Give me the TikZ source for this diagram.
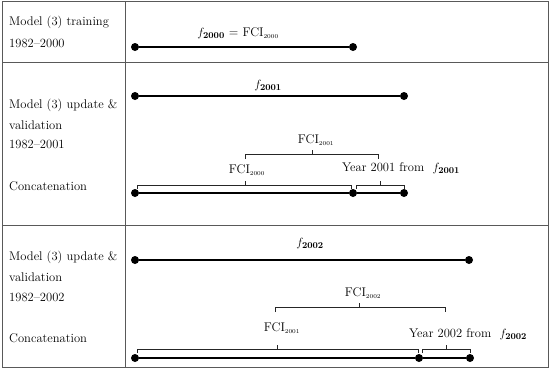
\documentclass[tikz,border=0pt]{standalone}
\begin{document}
\begin{tikzpicture}[x=1bp,y=-1bp,
  frame/.style={draw=black!65,line width=0.9bp},
  lbl/.style={font=\fontsize{12.6}{15}\selectfont,inner sep=0pt},
  rowtxt/.style={lbl,anchor=west},
  dot/.style={circle,fill=black,inner sep=0pt,minimum size=8bp},
  seg/.style={line width=1.4bp},
  brace/.style={line width=0.6bp,black!85}]
\useasboundingbox (0,0) rectangle (550,370);
% table
\draw[frame] (2,1) rectangle (548,367);
\draw[frame] (125,1) -- (125,367);
\draw[frame] (2,62) -- (548,62);
\draw[frame] (2,225) -- (548,225);
% row 1
\node[rowtxt] (t1a) at (9,22) {Model (3) training};
\node[rowtxt] (t1b) at (9,43) {1982--2000};
\node[dot] (a1) at (135,47) {};
\node[dot] (a2) at (353,47) {};
\draw[seg] (a1) -- (a2);
\node[lbl] (l1) at (238,33) {$f_{\mathbf{2000}}$ = FCI$_{\scriptscriptstyle 2000}$};
% row 2
\node[rowtxt] (t2a) at (9,105) {Model (3) update \&};
\node[rowtxt] (t2b) at (9,125) {validation};
\node[rowtxt] (t2c) at (9,144) {1982--2001};
\node[rowtxt] (t2d) at (9,186) {Concatenation};
\node[dot] (b1) at (135,96) {};
\node[dot] (b2) at (404,96) {};
\draw[seg] (b1) -- (b2);
\node[lbl] (l2) at (268,86) {$f_{\mathbf{2001}}$};
\node[dot] (c1) at (135,193) {};
\node[dot] (c2) at (353,193) {};
\node[dot] (c3) at (404,193) {};
\draw[seg] (c1) -- (c2) -- (c3);
\draw[brace] (245,159) -- (245,154) -- (378,154) -- (378,159);
\draw[brace] (312,154) -- (312,150);
\node[lbl] (l3) at (316,140) {FCI$_{\scriptscriptstyle 2001}$};
\draw[brace] (137,189) -- (137,185) -- (351,185) -- (351,189);
\draw[brace] (245,185) -- (245,181);
\node[lbl] (l4) at (247,170) {FCI$_{\scriptscriptstyle 2000}$};
\draw[brace] (356,189) -- (356,185) -- (404,185) -- (404,189);
\draw[brace] (380,185) -- (380,181);
\node[lbl] (l5) at (401,168) {Year 2001 from\ \ $f_{\mathbf{2001}}$};
% row 3
\node[rowtxt] (t3a) at (9,257) {Model (3) update \&};
\node[rowtxt] (t3b) at (9,277) {validation};
\node[rowtxt] (t3c) at (9,297) {1982--2002};
\node[rowtxt] (t3d) at (9,338) {Concatenation};
\node[dot] (d1) at (135,260) {};
\node[dot] (d2) at (469,260) {};
\draw[seg] (d1) -- (d2);
\node[lbl] (l6) at (310,244) {$f_{\mathbf{2002}}$};
\node[dot] (e1) at (135,358) {};
\node[dot] (e2) at (419,358) {};
\node[dot] (e3) at (470,358) {};
\draw[seg] (e1) -- (e2) -- (e3);
\draw[brace] (275,312) -- (275,307) -- (445,307) -- (445,312);
\draw[brace] (359,307) -- (359,303);
\node[lbl] (l7) at (363,293) {FCI$_{\scriptscriptstyle 2002}$};
\draw[brace] (137,353) -- (137,349) -- (418,349) -- (418,353);
\draw[brace] (277,349) -- (277,345);
\node[lbl] (l8) at (282,328) {FCI$_{\scriptscriptstyle 2001}$};
\draw[brace] (422,353) -- (422,349) -- (470,349) -- (470,353);
\draw[brace] (446,349) -- (446,345);
\node[lbl] (l9) at (468,334) {Year 2002 from\ \ $f_{\mathbf{2002}}$};
\end{tikzpicture}
\end{document}
